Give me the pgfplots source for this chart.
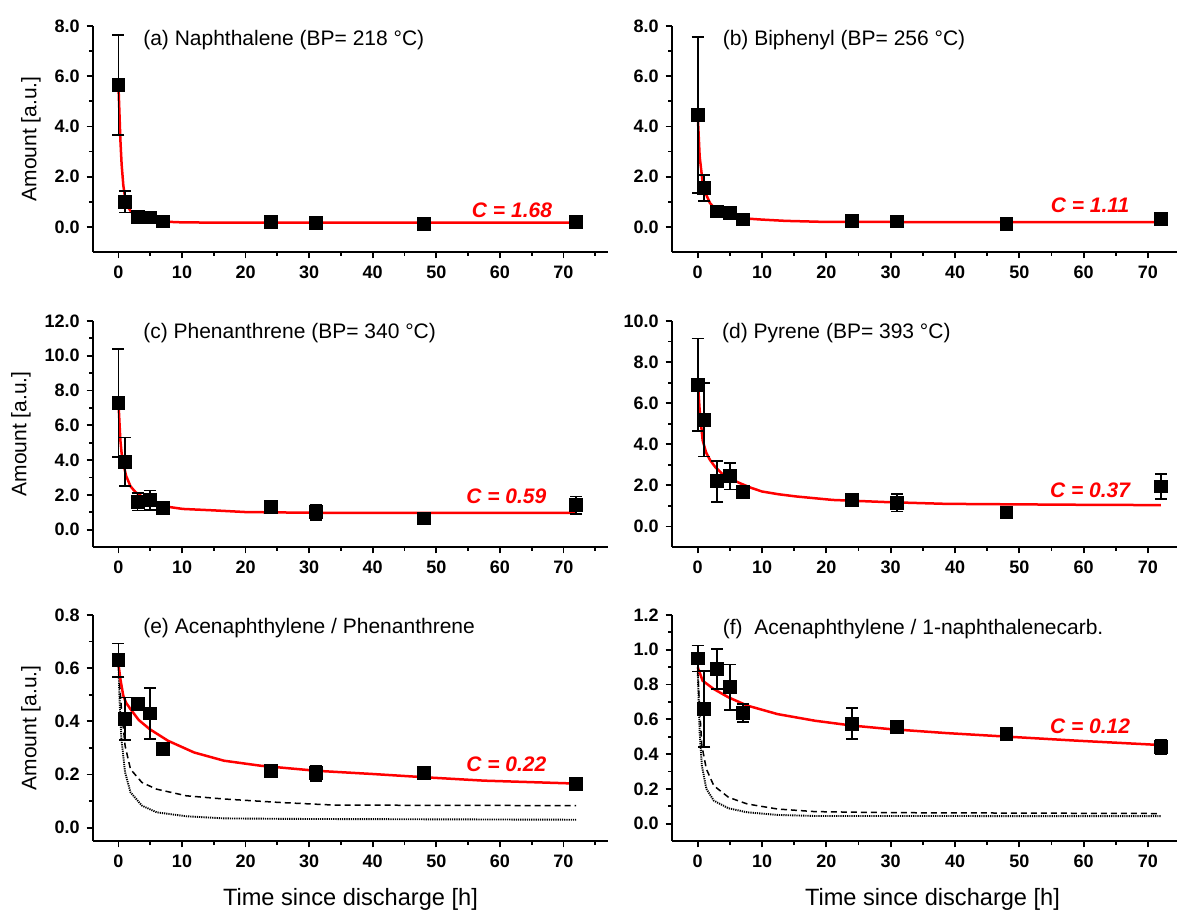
\documentclass[border=0pt]{standalone}
\usepackage{pgfplots}
\pgfplotsset{compat=1.18}
\usepackage{fontspec}
\setmainfont{Liberation Sans}
\definecolor{fitred}{RGB}{255,0,0}
\tikzset{
  ttl/.style={anchor=west, font=\fontsize{10.5}{12}\selectfont},
  cval/.style={anchor=center, text=fitred, font=\bfseries\itshape\fontsize{10.5}{12}\selectfont},
}
\pgfplotsset{
  panel/.style={
    scale only axis,
    axis x line*=bottom, axis y line*=left,
    axis line style={line width=1pt, black},
    tick align=outside,
    major tick length=3.2pt, minor tick length=2pt,
    every tick/.style={line width=0.9pt, black},
    xmin=-4, xmax=77,
    xtick={0,10,...,70}, minor xtick={5,15,...,75},
    tick label style={font=\bfseries\fontsize{9}{10}\selectfont},
    /pgf/number format/assume math mode=true,
    xticklabel style={/pgf/number format/.cd, fixed, precision=0},
    yticklabel style={/pgf/number format/.cd, fixed, fixed zerofill, precision=1},
    label style={font=\fontsize{10.5}{12}\selectfont},
    xlabel style={font=\fontsize{11.8}{13}\selectfont, yshift=-3.5pt},
    height=113pt,
  },
  lcol/.style={panel, width=257.5pt, ylabel={Amount [a.u.]}},
  rcol/.style={panel, width=260.5pt},
  pts/.style={only marks, mark=square*, mark size=3.2pt, black,
    mark options={fill=black, draw=black},
    error bars/.cd, y dir=both, y explicit,
    error bar style={line width=0.9pt, black},
    error mark options={rotate=90, mark size=3pt, line width=0.9pt, black}},
  fit/.style={fitred, line width=1.25pt, no marks},
  dashfit/.style={black, line width=0.75pt, no marks, dash pattern=on 3pt off 2pt},
  dotfit/.style={black, line width=0.95pt, no marks, dash pattern=on 0.6pt off 0.5pt},
}
\begin{document}
\begin{tikzpicture}
\path[use as bounding box] (0,0) rectangle (588.5pt,-456.5pt);

% (a)
\begin{axis}[lcol, at={(46.5pt,-126pt)}, anchor=south west,
  ymin=-1, ymax=8, ytick={0,2,...,8}, minor ytick={1,3,5,7}]
\addplot[fit] coordinates {(0,5.65) (0.15,4.6) (0.3,3.5) (0.5,2.5) (0.77,1.65) (1,1.25) (1.36,0.85) (2,0.6) (2.55,0.45) (3.5,0.35) (5,0.28) (6.5,0.23) (8,0.2) (10,0.18) (15,0.17) (30,0.17) (72,0.17)};
\addplot[pts] coordinates {(0,5.65) +- (0,2.0) (1,1.0) +- (0,0.43) (3,0.4) +- (0,0.05) (5,0.38) +- (0,0.05) (7,0.22) +- (0,0.05) (24,0.2) +- (0,0.05) (31,0.15) +- (0,0.05) (48,0.12) +- (0,0.05) (72,0.2) +- (0,0.05)};
\node[ttl] at (axis cs:2.8,7.42) {(a) Naphthalene (BP= 218 °C)};
\node[cval] at (axis cs:61.9,0.68) {C = 1.68};
\end{axis}

% (b)
\begin{axis}[rcol, at={(336pt,-126pt)}, anchor=south west,
  ymin=-1, ymax=8, ytick={0,2,...,8}, minor ytick={1,3,5,7}]
\addplot[fit] coordinates {(0,4.45) (0.3,2.8) (0.75,1.8) (1.2,1.35) (1.9,0.95) (2.7,0.72) (3.7,0.56) (5,0.45) (6.6,0.36) (8.3,0.32) (10,0.29) (13.6,0.24) (19.4,0.2) (40,0.19) (72,0.19)};
\addplot[pts] coordinates {(0,4.45) +- (0,3.1) (1,1.55) +- (0,0.52) (3,0.62) +- (0,0.05) (5,0.55) +- (0,0.05) (7,0.3) +- (0,0.05) (24,0.25) +- (0,0.05) (31,0.22) +- (0,0.05) (48,0.12) +- (0,0.05) (72,0.32) +- (0,0.05)};
\node[ttl] at (axis cs:2.8,7.42) {(b) Biphenyl (BP= 256 °C)};
\node[cval] at (axis cs:61,0.86) {C = 1.11};
\end{axis}

% (c)
\begin{axis}[lcol, at={(46.5pt,-273.5pt)}, anchor=south west,
  ymin=-1, ymax=12, ytick={0,2,...,12}, minor ytick={1,3,...,11}]
\addplot[fit] coordinates {(0,7.35) (0.3,5.16) (0.5,4.4) (0.76,3.82) (1.2,3.1) (1.9,2.49) (2.7,2.15) (3.7,1.91) (6,1.49) (8,1.3) (10.1,1.19) (14.8,1.11) (20,1.01) (30,0.97) (72,0.96)};
\addplot[pts] coordinates {(0,7.3) +- (0,3.1) (1,3.9) +- (0,1.4) (3,1.6) +- (0,0.5) (5,1.7) +- (0,0.55) (7,1.25) +- (0,0.15) (24,1.3) +- (0,0.15) (31,1.0) +- (0,0.45) (48,0.65) +- (0,0.1) (72,1.4) +- (0,0.5)};
\node[ttl] at (axis cs:2.8,11.28) {(c) Phenanthrene (BP= 340 °C)};
\node[cval] at (axis cs:61,1.9) {C = 0.59};
\end{axis}

% (d)
\begin{axis}[rcol, at={(336pt,-273.5pt)}, anchor=south west,
  ymin=-1, ymax=10, ytick={0,2,...,10}, minor ytick={1,3,...,9}]
\addplot[fit] coordinates {(0,7.12) (0.3,5.66) (0.76,4.2) (1.3,3.6) (1.9,3.24) (2.7,2.9) (3.7,2.59) (5,2.33) (6.6,2.1) (8.3,1.88) (10,1.7) (12.5,1.57) (15.3,1.46) (21,1.29) (29.8,1.18) (38.6,1.1) (47.3,1.08) (61.8,1.05) (72,1.04)};
\addplot[pts] coordinates {(0,6.9) +- (0,2.25) (1,5.2) +- (0,1.8) (3,2.2) +- (0,1.0) (5,2.45) +- (0,0.65) (7,1.7) +- (0,0.2) (24,1.3) +- (0,0.15) (31,1.15) +- (0,0.42) (48,0.68) +- (0,0.1) (72,1.95) +- (0,0.6)};
\node[ttl] at (axis cs:2.7,9.39) {(d) Pyrene (BP= 393 °C)};
\node[cval] at (axis cs:61,1.78) {C = 0.37};
\end{axis}

% (e)
\begin{axis}[lcol, at={(46.5pt,-420.5pt)}, anchor=south west,
  ymin=-0.05, ymax=0.8, ytick={0,0.2,...,0.8}, minor ytick={0.1,0.3,0.5,0.7},
  xlabel={Time since discharge [h]}]
\addplot[dotfit] coordinates {(0,0.62) (0.18,0.48) (0.47,0.333) (1.05,0.208) (1.9,0.133) (3.7,0.083) (6,0.058) (10.7,0.043) (16.6,0.035) (28,0.033) (72,0.03)};
\addplot[dashfit] coordinates {(0,0.62) (0.18,0.547) (0.47,0.446) (1.05,0.308) (1.9,0.22) (3.7,0.17) (6,0.145) (10.7,0.12) (16.6,0.108) (25.3,0.095) (34,0.085) (72,0.083)};
\addplot[fit] coordinates {(0,0.616) (0.3,0.56) (0.76,0.497) (1.2,0.47) (1.9,0.446) (3.2,0.405) (4.9,0.371) (7.8,0.327) (11.9,0.283) (16.6,0.252) (22.4,0.233) (31.2,0.214) (40,0.202) (48.7,0.189) (57.5,0.177) (72,0.166)};
\addplot[pts] coordinates {(0,0.63) +- (0,0.063) (1,0.41) +- (0,0.08) (3,0.465) +- (0,0.02) (5,0.43) +- (0,0.095) (7,0.295) +- (0,0.022) (24,0.215) +- (0,0.015) (31,0.205) +- (0,0.028) (48,0.205) +- (0,0.012) (72,0.165) +- (0,0.012)};
\node[ttl] at (axis cs:2.8,0.75) {(e) Acenaphthylene / Phenanthrene};
\node[cval] at (axis cs:61,0.24) {C = 0.22};
\end{axis}

% (f)
\begin{axis}[rcol, at={(336pt,-420.5pt)}, anchor=south west,
  ymin=-0.1, ymax=1.2, ytick={0,0.2,...,1.2}, minor ytick={0.1,0.3,...,1.1},
  xlabel={Time since discharge [h]}]
\addplot[dotfit] coordinates {(0,0.88) (0.3,0.525) (0.64,0.334) (1.34,0.2) (2.5,0.132) (4.8,0.088) (7.7,0.065) (12.4,0.05) (18.2,0.044) (72,0.043)};
\addplot[dashfit] coordinates {(0,0.88) (0.3,0.66) (0.64,0.449) (1.34,0.314) (2.5,0.218) (4.8,0.151) (7.7,0.113) (12.4,0.084) (18.2,0.069) (29.8,0.063) (72,0.058)};
\addplot[fit] coordinates {(0,0.9) (0.76,0.822) (2.5,0.774) (4.8,0.726) (7.7,0.679) (12.4,0.63) (18.2,0.592) (24,0.564) (29.8,0.544) (38.6,0.521) (47.3,0.502) (59,0.477) (72,0.452)};
\addplot[pts] coordinates {(0,0.95) +- (0,0.075) (1,0.66) +- (0,0.22) (3,0.89) +- (0,0.115) (5,0.785) +- (0,0.13) (7,0.635) +- (0,0.052) (24,0.575) +- (0,0.09) (31,0.555) +- (0,0.022) (48,0.515) +- (0,0.02) (72,0.44) +- (0,0.04)};
\node[ttl] at (axis cs:2.8,1.12) {(f)\ \ Acenaphthylene / 1-naphthalenecarb.};
\node[cval] at (axis cs:61,0.56) {C = 0.12};
\end{axis}
\end{tikzpicture}
\end{document}
